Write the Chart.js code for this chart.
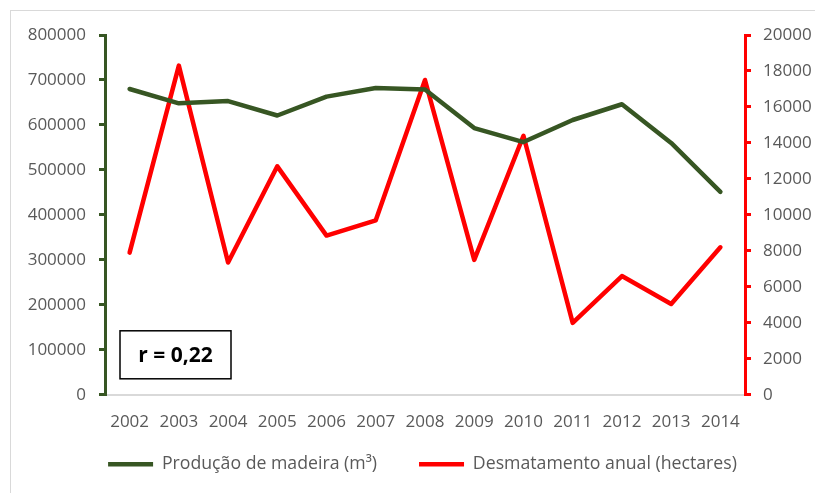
<!DOCTYPE html>
<html>
<head>
<meta charset="utf-8">
<script src="https://cdn.jsdelivr.net/npm/chart.js@4"></script>
<style>
  html, body { margin: 0; padding: 0; background: #fff; }
  #wrap { position: relative; width: 815px; height: 493px; overflow: hidden; }
  #frame { position: absolute; left: 10px; top: 10px; width: 820px; height: 500px; border: 1.5px solid #d9d9d9; box-sizing: border-box; }
  canvas { position: absolute; left: 0; top: 0; }
</style>
</head>
<body>
<div id="wrap">
  <div id="frame"></div>
  <canvas id="c" width="815" height="493"></canvas>
</div>
<script>
const years = ['2002','2003','2004','2005','2006','2007','2008','2009','2010','2011','2012','2013','2014'];
const producaoMadeira = [680000, 648000, 653000, 621000, 663000, 682000, 679000, 593000, 562000, 611000, 646000, 560000, 451000];
const desmatamento = [7900, 18300, 7350, 12700, 8850, 9700, 17500, 7500, 14400, 4000, 6600, 5050, 8200];
const labelProducao = 'Produção de madeira (m³)';
const labelDesmat = 'Desmatamento anual (hectares)';
const annotationText = 'r = 0,22';

const GREEN = '#375623';
const RED = '#ff0000';
const GREY = '#595959';

Chart.defaults.font.family = "'Open Sans', sans-serif";
Chart.defaults.font.size = 17;
Chart.defaults.color = GREY;

const rBox = {
  id: 'rBox',
  afterDraw(chart) {
    const {ctx, chartArea} = chart;
    const x = chartArea.left + 15, y = chartArea.bottom - 64, w = 111, h = 48;
    ctx.save();
    ctx.fillStyle = '#fff';
    ctx.fillRect(x, y, w, h);
    ctx.lineWidth = 1.5;
    ctx.strokeStyle = '#000';
    ctx.strokeRect(x, y, w, h);
    ctx.fillStyle = '#000';
    ctx.font = "bold 21px 'Open Sans', sans-serif";
    ctx.textAlign = 'center';
    ctx.textBaseline = 'middle';
    ctx.fillText(annotationText, x + w / 2, y + h / 2 + 1);
    ctx.restore();
  }
};

new Chart(document.getElementById('c'), {
  type: 'line',
  data: {
    labels: years,
    datasets: [
      {
        label: labelProducao,
        data: producaoMadeira,
        yAxisID: 'y',
        borderColor: GREEN,
        backgroundColor: GREEN,
        borderWidth: 4.5,
        pointRadius: 0,
        pointStyle: 'line',
        borderJoinStyle: 'round',
        borderCapStyle: 'round',
        tension: 0
      },
      {
        label: labelDesmat,
        data: desmatamento,
        yAxisID: 'y1',
        borderColor: RED,
        backgroundColor: RED,
        borderWidth: 4.5,
        pointRadius: 0,
        pointStyle: 'line',
        borderJoinStyle: 'round',
        borderCapStyle: 'round',
        tension: 0
      }
    ]
  },
  options: {
    responsive: false,
    animation: false,
    events: [],
    layout: { padding: { left: 20, right: -10, top: 35, bottom: 10 } },
    plugins: {
      tooltip: { enabled: false },
      legend: {
        position: 'bottom',
        labels: {
          usePointStyle: true,
          pointStyle: 'line',
          pointStyleWidth: 45,
          padding: 42,
          color: GREY,
          font: { size: 17.7 }
        }
      }
    },
    scales: {
      x: {
        offset: true,
        grid: { display: false, drawTicks: false },
        border: { color: '#d9d9d9', width: 2 },
        ticks: { color: GREY, padding: 17, maxRotation: 0, autoSkip: false, font: { size: 17 } },
        afterFit(s) {
          s.height = 18.5;
          // keep tick labels visible below the reduced axis box
          s._computeLabelArea = () => null;
        }
      },
      y: {
        position: 'left',
        min: 0, max: 800000,
        ticks: { stepSize: 100000, padding: 13, color: GREY, font: { size: 17 }, callback: v => String(v) },
        grid: { drawOnChartArea: false, drawTicks: true, tickLength: 6, color: GREEN, lineWidth: 3 },
        border: { color: GREEN, width: 3 },
        afterFit(s) { s.width = 85; }
      },
      y1: {
        position: 'right',
        min: 0, max: 20000,
        ticks: { stepSize: 2000, padding: 12, color: GREY, font: { size: 17 }, callback: v => String(v) },
        grid: { drawOnChartArea: false, drawTicks: true, tickLength: 6, color: RED, lineWidth: 3 },
        border: { color: RED, width: 3 },
        afterFit(s) { s.width = 80; }
      }
    }
  },
  plugins: [rBox]
});
</script>
</body>
</html>
